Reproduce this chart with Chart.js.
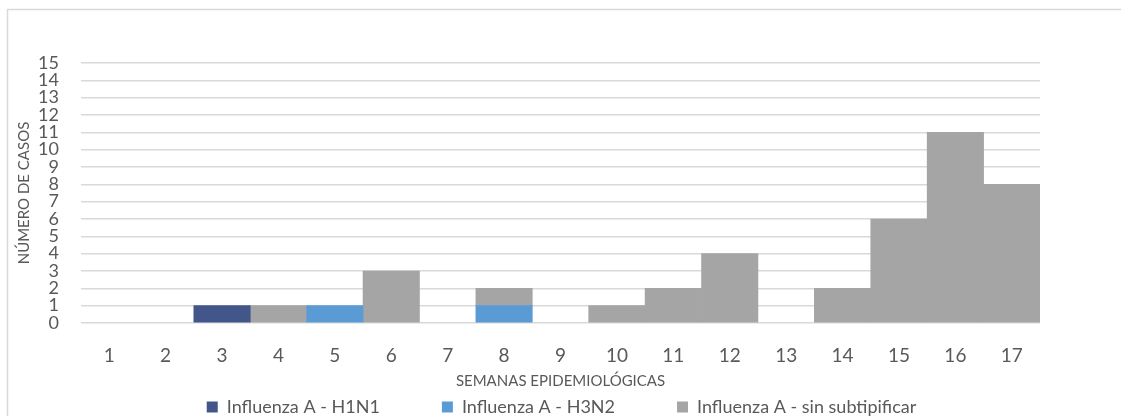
<!DOCTYPE html>
<html>
<head>
<meta charset="utf-8">
<title>Influenza A por semana</title>
<script src="https://cdn.jsdelivr.net/npm/chart.js@4/dist/chart.umd.min.js"></script>
<style>
  html, body { margin: 0; padding: 0; background: #fff; }
  #wrap { width: 1121px; height: 416px; }
</style>
</head>
<body>
<div id="wrap"><canvas id="chart"></canvas></div>
<script>
const weeks = ['1','2','3','4','5','6','7','8','9','10','11','12','13','14','15','16','17']
const h1n1 = [0,0,1,0,0,0,0,0,0,0,0,0,0,0,0,0,0]
const h3n2 = [0,0,0,0,1,0,0,1,0,0,0,0,0,0,0,0,0]
const sinSubtipificar = [0,0,0,1,0,3,0,1,0,1,2,4,0,2,6,11,8]

const textColor = '#595959'
const fontFamily = 'Lato, "Open Sans", sans-serif'
const legendGap = 62

// zero-height bars would still leave a thin inflated strip on the baseline
const fill = color => ctx => (ctx.raw ? color : 'transparent')

// light grey frame around the whole chart, like the office export
const frame = {
  id: 'frame',
  beforeDraw(c) {
    const ctx = c.ctx
    ctx.save()
    ctx.strokeStyle = '#d9d9d9'
    ctx.lineWidth = 1.5
    ctx.strokeRect(7.5, 9.5, 1200, 500)
    ctx.restore()
  },
}

// the legend padding is used as the gap between items, so pull the row back up
const legendRow = {
  id: 'legendRow',
  afterLayout(c) {
    const lg = c.legend
    lg.top = 398 - legendGap
    lg.bottom = c.height
    lg.left += legendGap / 2 + 3
    lg.right += legendGap / 2 + 3
  },
}

new Chart('chart', {
  type: 'bar',
  data: {
    labels: weeks,
    datasets: [
      { label: 'Influenza A - H1N1', data: h1n1, backgroundColor: fill('#43568a') },
      { label: 'Influenza A - H3N2', data: h3n2, backgroundColor: fill('#5b9bd5') },
      { label: 'Influenza A - sin subtipificar', data: sinSubtipificar, backgroundColor: fill('#a5a5a5') },
    ],
  },
  options: {
    responsive: true,
    maintainAspectRatio: false,
    animation: false,
    categoryPercentage: 1,
    barPercentage: 1,
    layout: { padding: { top: 63, right: 81, left: 15, bottom: 0 } },
    plugins: {
      tooltip: { enabled: false },
      legend: {
        position: 'bottom',
        maxHeight: 24,
        labels: {
          color: textColor,
          font: { family: fontFamily, size: 18 },
          boxWidth: 11,
          boxHeight: 11,
          padding: legendGap,
          generateLabels(chart) {
            const items = Chart.defaults.plugins.legend.labels.generateLabels(chart)
            return items.map((it, i) => ({ ...it, fillStyle: ['#43568a', '#5b9bd5', '#a5a5a5'][i], strokeStyle: 'transparent', lineWidth: 0 }))
          },
        },
      },
    },
    scales: {
      x: {
        stacked: true,
        afterFit(scale) { scale.height = 69 },
        grid: { display: false },
        border: { display: false },
        ticks: { color: textColor, font: { family: fontFamily, size: 19 }, padding: 13 },
        title: {
          display: true,
          text: 'SEMANAS EPIDEMIOLÓGICAS',
          color: textColor,
          font: { family: fontFamily, size: 15 },
          padding: { top: 0, bottom: 2 },
        },
      },
      y: {
        stacked: true,
        min: 0,
        max: 15,
        afterFit(scale) { scale.width = 66 },
        grid: { color: '#d9d9d9', lineWidth: 1.5, drawTicks: false },
        border: { display: false },
        ticks: {
          stepSize: 1,
          autoSkip: false,
          color: textColor,
          font: { family: fontFamily, size: 18, lineHeight: 1 },
          padding: 22,
        },
        title: {
          display: true,
          text: 'NÚMERO DE CASOS',
          color: textColor,
          font: { family: fontFamily, size: 15 },
          padding: { top: 0, bottom: 0 },
        },
      },
    },
  },
  plugins: [frame, legendRow],
})
</script>
</body>
</html>
